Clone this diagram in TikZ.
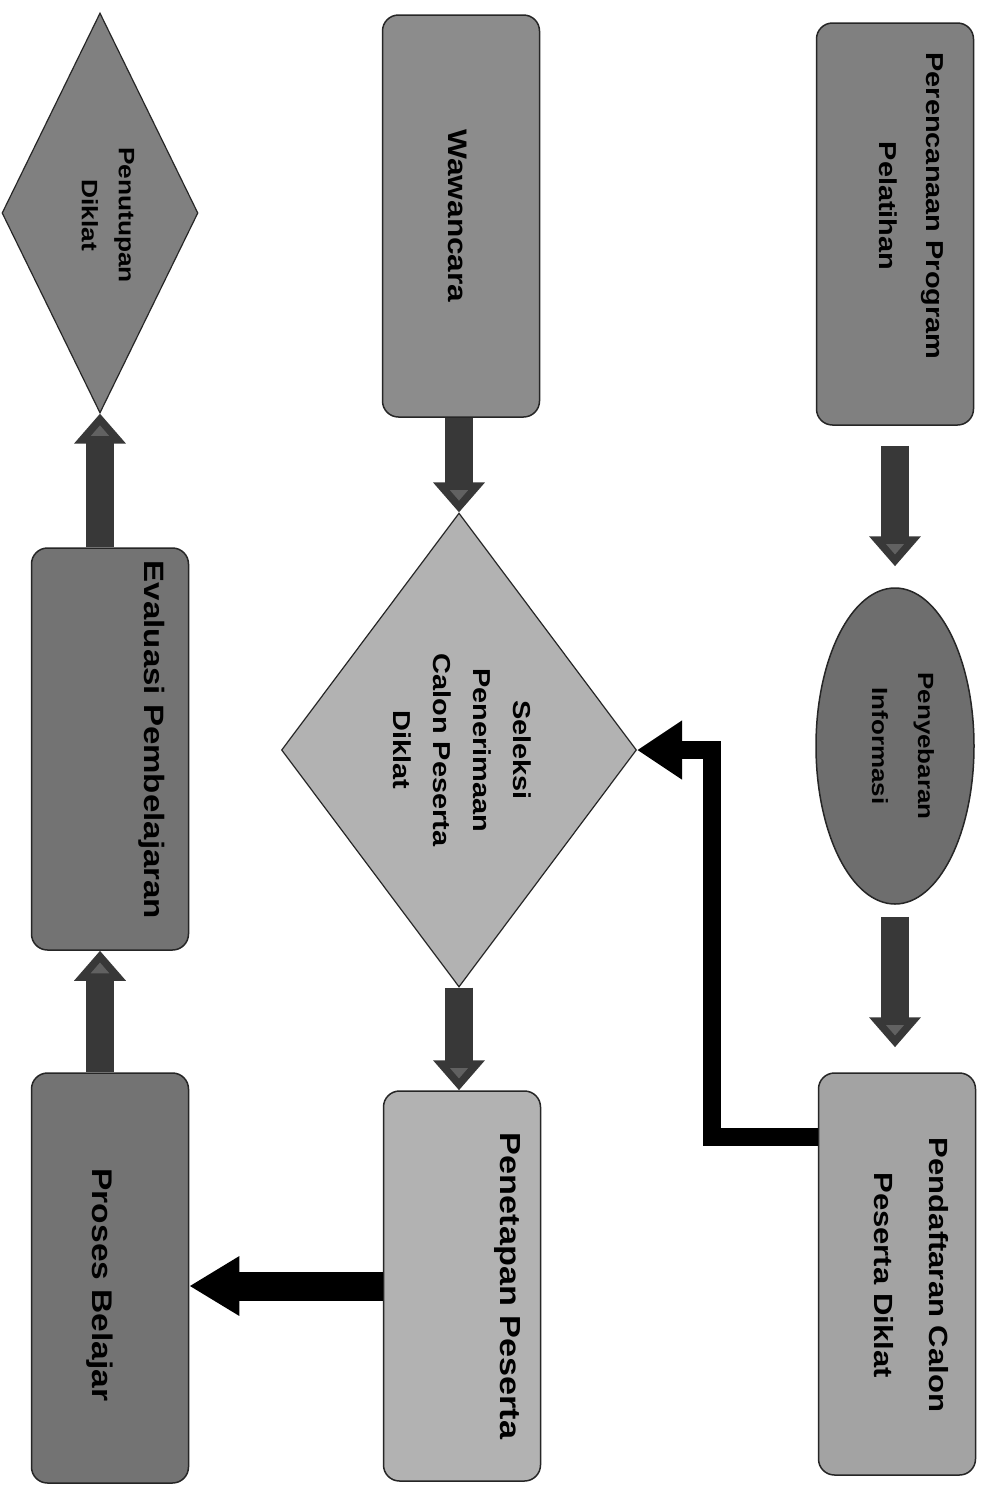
\documentclass[tikz,border=0pt]{standalone}
\usepackage{fontspec}
\setmainfont{Liberation Sans}
\usetikzlibrary{shapes.geometric,arrows.meta,calc}
\begin{document}
\begin{tikzpicture}[x=1pt,y=-1pt,
  box/.style={draw=black!85,line width=1.5pt,rounded corners=16pt,minimum width=157pt,minimum height=402pt,inner sep=0pt},
  oval/.style={draw=black!85,line width=1.5pt,ellipse,minimum width=158pt,minimum height=316pt,inner sep=0pt},
  dia/.style={draw=black!85,line width=1.2pt,diamond,inner sep=0pt},
  lbl/.style={align=center,rotate=-90,xscale=1.18,text=black,inner sep=0pt},
  garrow/.style={line width=28pt,draw=black!78,-{Triangle[width=50pt,length=30pt,fill=black!62]}},
  barrow/.style={line width=18pt,draw=black,line join=miter,-{Triangle[width=56pt,length=45pt]}},
  warrow/.style={line width=29pt,draw=black,-{Triangle[width=56pt,length=50pt]}}
]
\useasboundingbox (0,0) rectangle (985,1492);
\fill[white] (0,0) rectangle (985,1492);

% right column
\node[box,fill=black!50] (perenc) at (895,224) {};
\node[lbl,font=\bfseries\fontsize{24.5}{47}\selectfont] (tperenc) at (911,206) {Perencanaan Program\\Pelatihan};
\node[oval,fill=black!57] (penyeb) at (895,746) {};
\node[lbl,font=\bfseries\fontsize{22}{46}\selectfont] (tpenyeb) at (903,746) {Penyebaran\\Informasi};
\node[box,fill=black!36] (pendaf) at (897,1274) {};
\node[lbl,font=\bfseries\fontsize{26.3}{55}\selectfont] (tpendaf) at (911,1275) {Pendaftaran Calon\\Peserta Diklat};

% middle column
\node[box,fill=black!45] (wawan) at (461,216) {};
\node[lbl,font=\bfseries\fontsize{26.8}{40}\selectfont] (twawan) at (458,216) {Wawancara};
\node[dia,fill=black!30,minimum width=355pt,minimum height=474pt] (seleksi) at (459,750) {};
\node[lbl,font=\bfseries\fontsize{24.5}{40}\selectfont] (tseleksi) at (462,750) {Seleksi\\Penerimaan\\Calon Peserta\\Diklat};
\node[box,fill=black!30,minimum height=390pt] (penetap) at (462,1286) {};
\node[lbl,font=\bfseries\fontsize{29}{40}\selectfont] (tpenetap) at (507,1286) {Penetapan Peserta};

% left column
\node[box,fill=black!55,minimum height=410pt] (proses) at (110,1278) {};
\node[lbl,font=\bfseries\fontsize{28.4}{40}\selectfont] (tproses) at (100,1285) {Proses Belajar};
\node[box,fill=black!55] (evalua) at (110,749) {};
\node[lbl,font=\bfseries\fontsize{28}{40}\selectfont] (tevalua) at (152,740) {Evaluasi Pembelajaran};
\node[dia,fill=black!50,minimum width=196pt,minimum height=400pt] (penutup) at (100,213) {};
\node[lbl,font=\bfseries\fontsize{22.3}{37}\selectfont] (tpenutup) at (108,215) {Penutupan\\Diklat};

% connectors
\draw[garrow,shorten <=20pt,shorten >=21pt] (perenc.south) -- (perenc.south |- penyeb.north);
\draw[garrow,shorten <=12pt,shorten >=25pt] (penyeb.south) -- (penyeb.south |- pendaf.north);
\draw[garrow] (wawan.south -| seleksi.north) -- (seleksi.north);
\draw[garrow] (seleksi.south) -- (seleksi.south |- penetap.north);
\draw[garrow] (proses.north -| penutup.south) -- (evalua.south -| penutup.south);
\draw[garrow] (evalua.north -| penutup.south) -- (penutup.south);
\coordinate (bend) at (712,750);
\draw[barrow] ([yshift=137pt]pendaf.west) -| (bend) -- (seleksi.east);
\draw[warrow] (penetap.west) -- (penetap.west -| proses.east);
\end{tikzpicture}
\end{document}
